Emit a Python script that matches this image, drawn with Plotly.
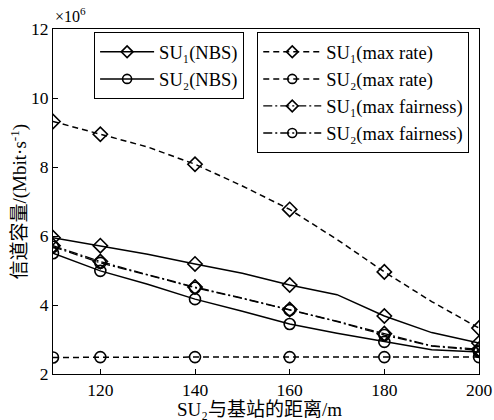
import plotly.graph_objects as go

# distance of SU2 to base station (m)
x_line = [110, 120, 130, 140, 150, 160, 170, 180, 190, 200]
x_mark = [110, 120, 140, 160, 180, 200]

# channel capacity (x10^6 Mbit/s)
su1_nbs = [5.95, 5.72, 5.47, 5.19, 4.92, 4.58, 4.30, 3.68, 3.20, 2.90]
su2_nbs = [5.50, 4.99, 4.60, 4.17, 3.82, 3.45, 3.18, 2.93, 2.70, 2.64]
su1_maxrate = [9.32, 8.95, 8.58, 8.08, 7.45, 6.77, 5.90, 4.96, 4.10, 3.33]
su2_maxrate = [2.48, 2.49, 2.49, 2.49, 2.49, 2.49, 2.49, 2.49, 2.49, 2.49]
su1_fair = [5.72, 5.26, 4.88, 4.52, 4.20, 3.87, 3.53, 3.17, 2.82, 2.72]
su2_fair = [5.69, 5.22, 4.87, 4.50, 4.19, 3.85, 3.52, 3.13, 2.81, 2.68]

x_ticks = [120, 140, 160, 180, 200]
y_ticks = [2, 4, 6, 8, 10, 12]

DASH = "6px,4px"
DASHDOT = "9px,3px,2px,3px"

series = [
    ("SU₁(NBS)", su1_nbs, "diamond-open", "solid", "legend", 1.5),
    ("SU₂(NBS)", su2_nbs, "circle-open", "solid", "legend", 1.5),
    ("SU₁(max rate)", su1_maxrate, "diamond-open", DASH, "legend2", 1.5),
    ("SU₂(max rate)", su2_maxrate, "circle-open", DASH, "legend2", 1.5),
    ("SU₁(max fairness)", su1_fair, "diamond-open", DASHDOT, "legend2", 1.3),
    ("SU₂(max fairness)", su2_fair, "circle-open", DASHDOT, "legend2", 1.3),
]

fig = go.Figure()
for name, vals, sym, dash, leg, lw in series:
    line = dict(color="black", width=lw, dash=dash)
    mk = dict(symbol=sym, size=11, color="black", line=dict(color="black", width=1.6))
    fig.add_trace(go.Scatter(x=x_line, y=vals, mode="lines", line=line,
                             showlegend=False, hoverinfo="skip"))
    ym = [vals[x_line.index(v)] for v in x_mark]
    fig.add_trace(go.Scatter(x=x_mark, y=ym, mode="markers", marker=mk,
                             showlegend=False))
    fig.add_trace(go.Scatter(x=[None], y=[None], mode="lines+markers", name=name,
                             line=line, marker=dict(mk, size=9), legend=leg))

FAM = "Liberation Serif, Noto Sans CJK SC"
tick_font = dict(family=FAM, size=17.5, color="black")
title_font = dict(family=FAM, size=19, color="black")
leg_font = dict(family=FAM, size=18.5, color="black")
axis_common = dict(showline=True, linecolor="black", linewidth=1.2, mirror=True,
                   ticks="inside", ticklen=5, tickcolor="black", showgrid=False,
                   zeroline=False, tickfont=tick_font, automargin=False)

fig.update_layout(
    template="none",
    width=494, height=420,
    margin=dict(l=53, r=15, t=29, b=46),
    paper_bgcolor="white", plot_bgcolor="white",
    font=tick_font,
    xaxis=dict(range=[110, 200], tickvals=x_ticks, **axis_common),
    yaxis=dict(range=[2, 12], tickvals=y_ticks, **axis_common),
    legend=dict(x=0.096, y=0.991, xanchor="left", yanchor="top",
                bordercolor="black", borderwidth=1.2, bgcolor="white",
                font=leg_font, tracegroupgap=0, itemwidth=54),
    legend2=dict(x=0.479, y=0.991, xanchor="left", yanchor="top",
                 bordercolor="black", borderwidth=1.2, bgcolor="white",
                 font=leg_font, tracegroupgap=0, itemwidth=58),
    annotations=[
        dict(text="×10<sup>6</sup>", xref="paper", yref="paper",
             x=0.0, y=1.0, xanchor="left", yanchor="bottom", yshift=2,
             showarrow=False, font=dict(family="Liberation Serif", size=16)),
        dict(text="SU₂与基站的距离/m", xref="paper", yref="paper",
             x=0.485, y=0, xanchor="center", yanchor="top", yshift=-23,
             showarrow=False, font=title_font),
        dict(text="信道容量/(Mbit·s<sup>-1</sup>)", xref="paper", yref="paper",
             x=0, y=0.5, xanchor="center", yanchor="middle", xshift=-34,
             textangle=-90, showarrow=False, font=title_font),
    ],
)

fig.write_html("out.html", config={"displayModeBar": False},
               post_script="document.body.style.margin='0';")
